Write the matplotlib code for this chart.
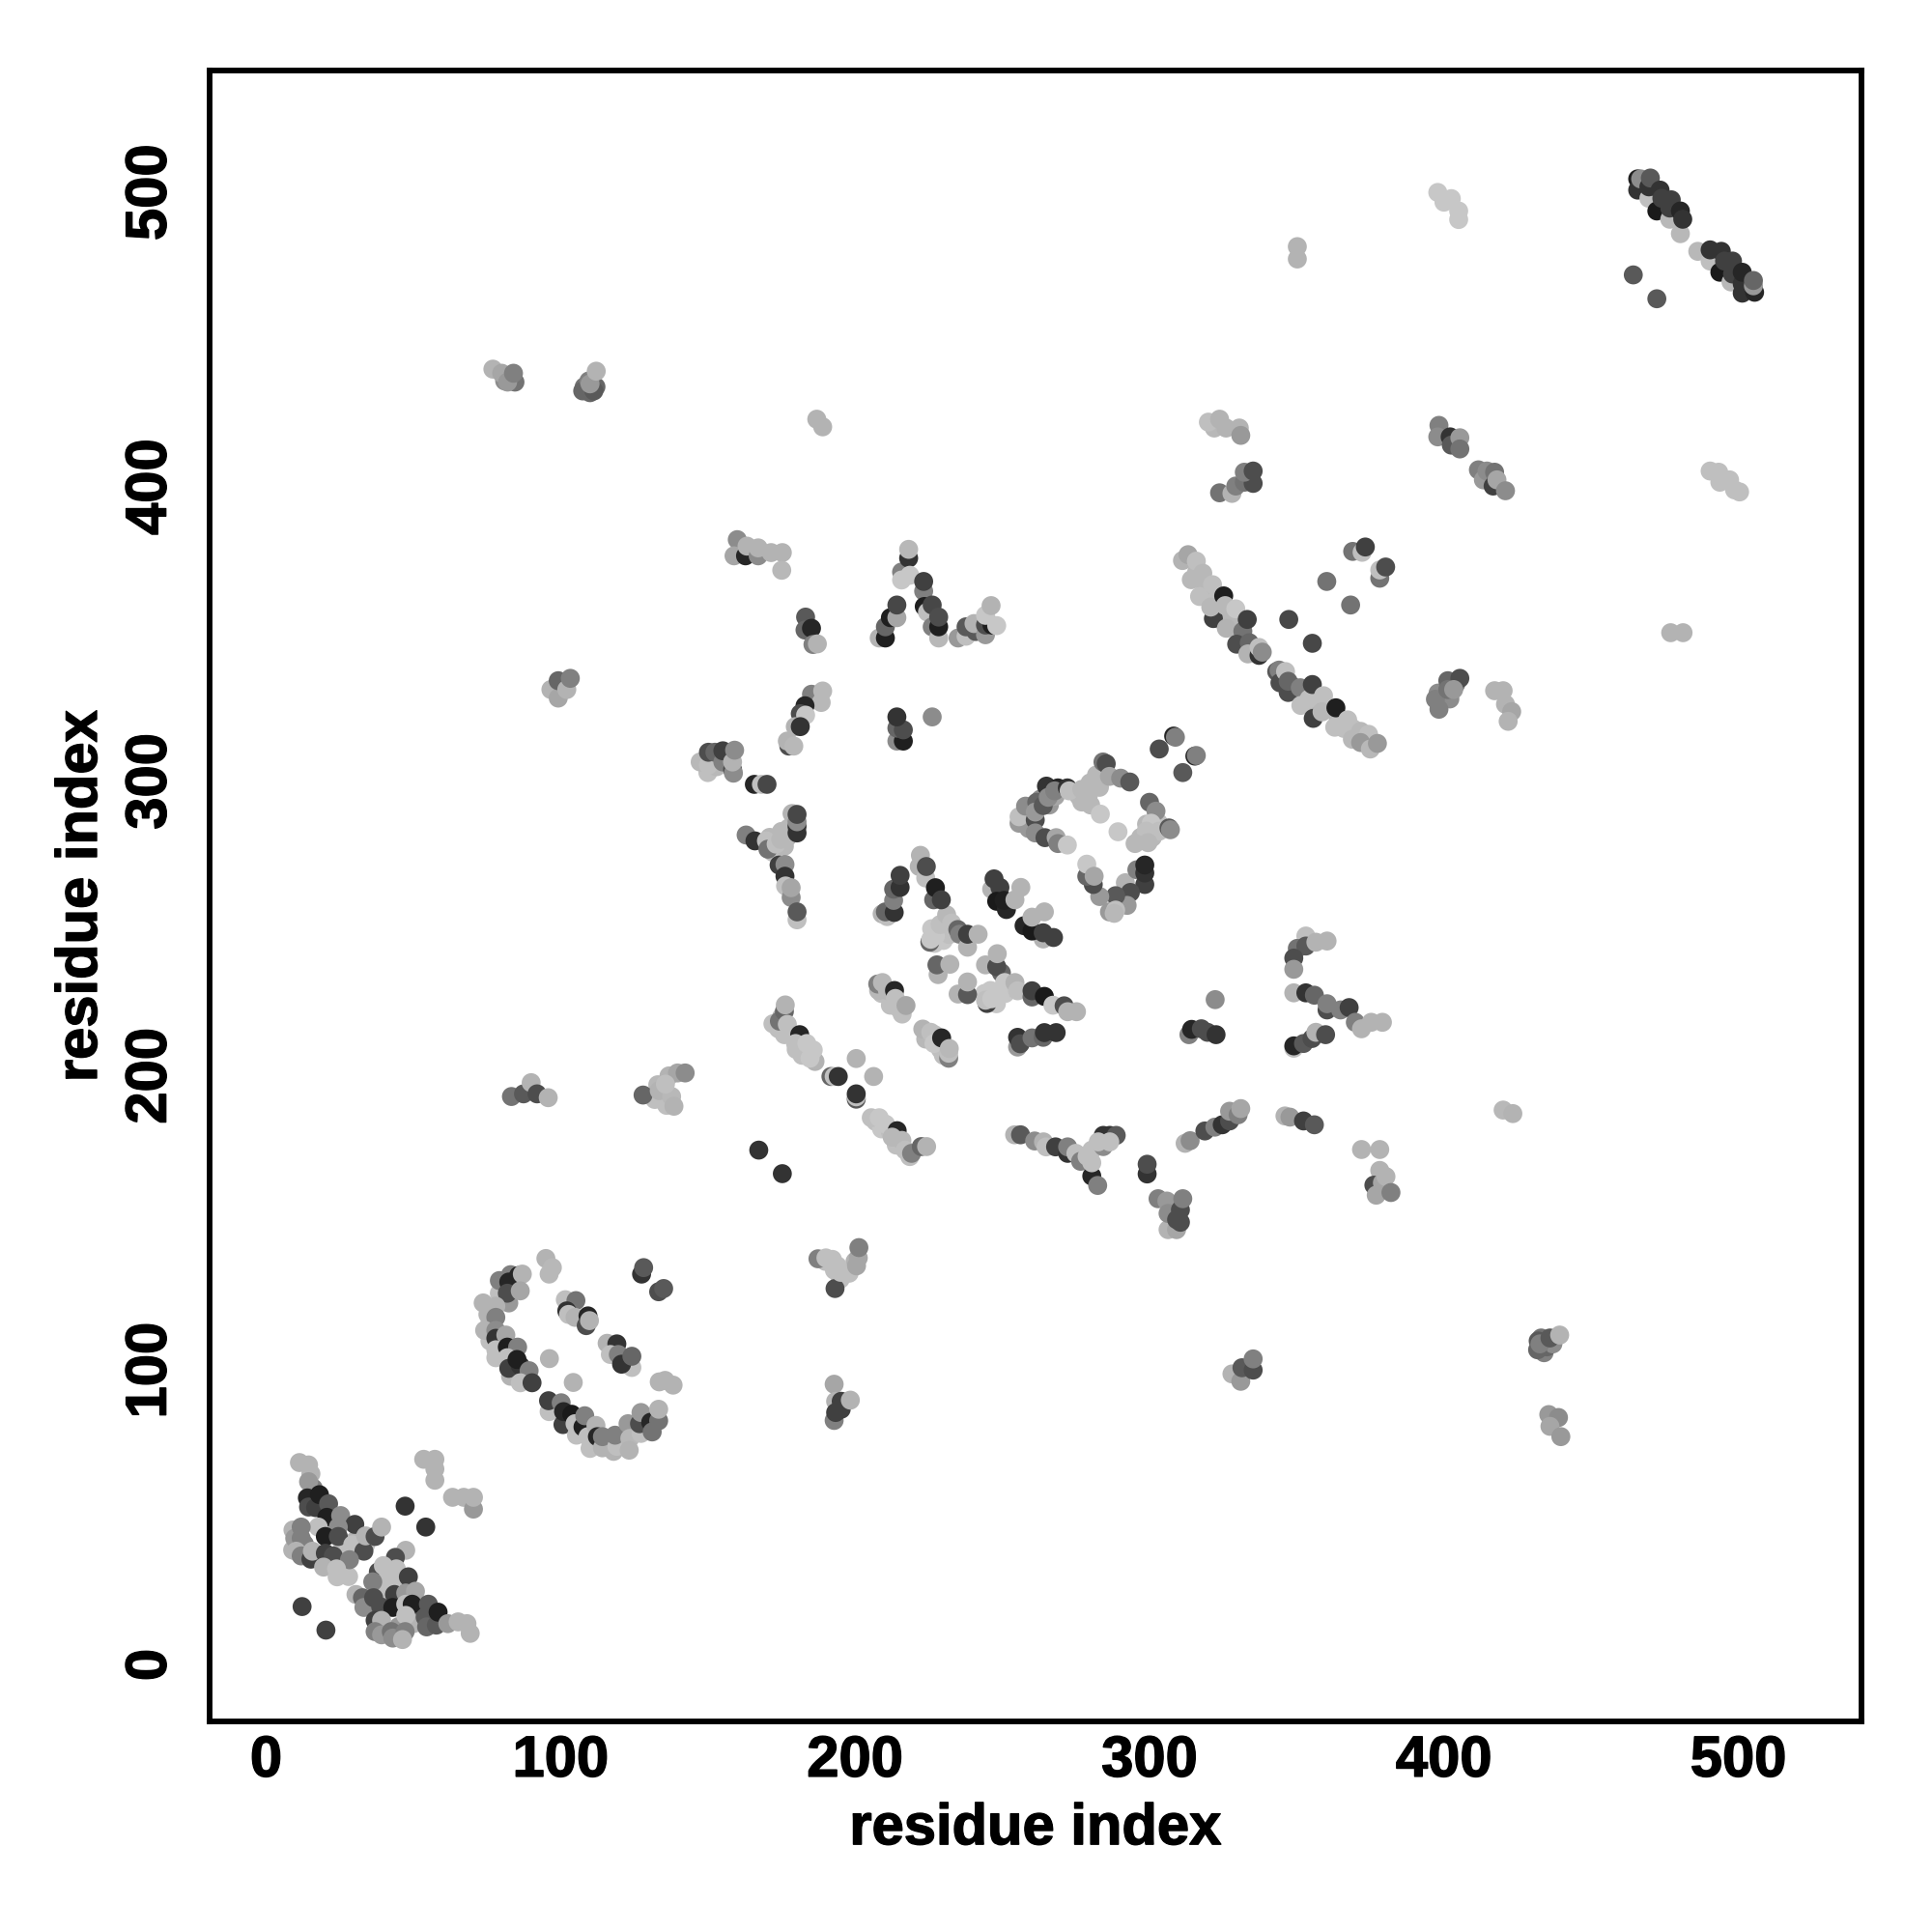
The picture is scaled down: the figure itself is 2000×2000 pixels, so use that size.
import matplotlib
matplotlib.use("Agg")
import matplotlib.pyplot as plt
import matplotlib.patheffects as pe

# each contact: (residue i, residue j, grey level)
dense_under = [(174,216,.75),(176,214,.75),(180,209,.75),(182,207,.75),(175,220,.72),(207,184.5,.75),(209,182,.78),(212,181,.75),(216,176,.75),
 (214,176.5,.75),(209,228,.75),(212,224,.75),(216,221,.75),(208,229,.72),(224,212.5,.72),(227,214,.75),(229,209,.75),(230,207,.75),
 (229,249,.78),(230,246,.78),(227,245,.78),(232,248,.75),(226,250,.78),(246,229,.78),(248,224.5,.78),(244,228,.78),(251,228,.78),(252,230,.75),
 (277,293,.72),(280,292,.72),(276,295,.72),(283,298,.72),(297,281,.72),(301,281,.72),(303,286,.75),(299,285.5,.72),(266,292,.6),(263,294,.55),
 (268,295,.65),(258,286,.7),(259,284,.6),(76,116,.7),(76,110,.75),(80,109,.7),(76,121,.7),(84,104,.75),(83,98,.7),(110,73.5,.75),(118,72.5,.7),
 (121,75,.72),(16,60,.5),(9,39,.7),(13,41,.5),(14,39,.5),(28,30,.75),(41,27,.75),(45,30,.75),(23,44,.75),(26,40,.75),(30,42,.7),(40,25,.75),
 (52,18,.4),(38,12,.55),(45,13,.6),(50,14,.7),(316,371,.72),(319,366,.72),(322,361,.75),(327,355,.72),(329,352,.72),(324,355,.72),(366,318,.75),
 (364,322,.72),(369,318,.75),(360,325,.72),(357,326,.7),(373,314,.75),(352,328,.5),(349,332,.4),(172,276,.75),(175,283,.72),(171,281,.72),
 (176,278,.72),(177,281,.72),(150,303,.75),(153,305,.72),(109,434,.5),(112,434,.4),(110,432,.4),(108,434,.45),(83,437,.55),(81,436,.55),
 (433,111,.45),(434,106,.5),(435,108,.4),(437,109,.55),(432,110,.35),(322,420,.72),(326,420,.7),(400,330,.5),(398,330,.55),(402,328,.55),(404,333,.45),
 (190,137,.75),(193,134,.75),(195,131,.75),(197,133,.75),(198,133,.75),(200,137,.7),(134,193,.75),(136,190,.75),(133,197,.72),(132,192,.75)]

cross_lowleft = [(11.3,68.7,.7),(14.4,67.9,.7),(15.2,64.9,.7),(14.4,62.2,.6),(14,56.7,.15),(14.4,53.6,.3),(16.8,53.4,.25),
 (18.1,57.8,.12),(21.2,54.7,.35),(20.6,50.1,.12),(25.3,50.7,.55),(30.1,47.7,.25),(17.7,46.8,.75),(24.5,46.8,.55),(20.1,43.6,.12),
 (24.5,43.6,.3),(29.4,40.8,.75),(33.8,40.8,.75),(33.2,38.6,.3),(33.8,43.8,.7),(37,43.6,.3),(39.2,46.8,.7),(9.1,45.8,.7),(9.7,43,.6),
 (11.9,46.8,.5),(11.9,43,.5),(10.2,38.6,.7),(11.9,37,.5),(15.2,35.9,.25),(15.7,38.6,.7),(20.1,37.9,.25),(22.8,37,.3),(28.3,35.7,.5),
 (19.5,33.2,.7),(23.9,32.6,.75),(24.1,29.9,.75),(47.4,38.9,.7),(43.9,36.5,.3),(38.1,31.6,.3),(39.8,33.7,.75),(44.2,32.6,.75),
 (41.4,29.9,.75),(48.3,29.9,.25),(36.2,28.2,.5),(30.5,23.9,.7),(32.7,22.8,.4),(33.2,19.5,.55),(36.5,22.8,.3),(38.9,19.7,.3),
 (43.6,23.9,.25),(43,19.5,.12),(47.4,24.4,.6),(50.7,25,.65),(47.4,20.6,.75),(49.6,20.6,.12),(55.1,20.6,.35),(54,16.2,.35),
 (54.5,12.9,.4),(57.8,13.5,.35),(58.4,17.9,.12),(47.4,16.8,.75),(37,15.1,.25),(39.2,15.1,.7),(37,11.3,.5),(39.2,10.2,.6),
 (42.5,11.3,.45),(43,9.1,.55),(47.2,11.3,.5),(46.3,8.6,.7),(61.7,14,.6),(65.2,14.6,.7),(68.2,14,.7),(69.3,10.7,.7),
 (12.2,19.8,.25),(20.3,11.8,.25),(47.2,53.9,.2),(54.2,46.8,.2),(53.5,69.8,.7),(57.3,69.8,.7),(57.3,66.5,.7),(57.3,62.7,.7),
 (63.3,56.9,.7),(67.1,56.9,.7),(70.4,52.9,.6),(70.4,56.9,.7)]

ring_outer = [(95,138,.7),(97.2,134.9,.72),(96.1,132.7,.72),(79.2,126.2,.75),(79.2,130.5,.5),(83,132.5,.5),(82.4,130,.15),
 (85.7,132.2,.15),(87,132.7,.7),(82.4,122.9,.6),(81.9,126.2,.3),(86.3,127,.65),(73.7,122.9,.7),(78,121.8,.7),(75.3,119,.7),
 (78,118,.5),(74.2,113.6,.7),(78,113.6,.55),(78,110.9,.2),(81.4,112,.65),(78,107,.75),(78,104.3,.75),(81.9,107.9,.12),
 (85.4,107.9,.5),(81.9,104.3,.75),(82.4,100.7,.25),(86.3,101.6,.2),(85.2,103.7,.12),(89.3,99.9,.5),(86.3,95.8,.75),(90.3,95.8,.25),
 (96.2,104,.7),(104.3,95.9,.7),(96.1,86,.75),(95.9,89.7,.25),(100.2,89,.5),(100.8,81.6,.25),(101,86,.15),(103.8,85.1,.1),
 (104.9,81.9,.75),(105.4,78,.75),(107.6,80.8,.12),(108.2,84.6,.5),(109.3,77.5,.75),(112,81.3,.7),(112.5,77.5,.15),(114.2,73.7,.7),
 (114.2,77.5,.5),(119.1,74.2,.75),(118.5,78,.5),(122.9,81.9,.6),(123.5,76.9,.72),(123.3,72.9,.7),(127.3,78.6,.75),(126.8,81.9,.3),
 (127.3,85.7,.6),(130.6,82.4,.15),(131.1,79.1,.45),(133.3,82.9,.45),(133.3,86.8,.7)]

ring_inner = [(101.6,124,.75),(105.2,123.7,.45),(102.1,120.2,.2),(102.7,119,.75),(104.9,118,.7),(108.7,115.2,.3),(109.3,118.5,.15),
 (109.8,116.9,.7),(115.8,109.2,.7),(119.1,109,.2),(116.9,105.4,.75),(119.6,105.4,.5),(124.2,101,.75),(120.7,102.1,.2),(124.2,104.8,.4),
 (133.5,96.1,.7),(135.5,96.6,.7),(138.2,95,.7),(127.5,132.7,.2),(128.2,134.9,.35),(133.3,126.7,.3),(135,127.8,.35)]

mid_low = [(187.4,137.9,.5),(190.1,138.2,.75),(192.3,137.7,.75),(193.2,127.8,.3),(194,135.5,.75),(195.1,133.3,.75),(200.5,135.5,.65),
 (201.1,138.2,.65),(201.3,141.7,.5),(192.9,95.3,.65),(193.4,89.5,.7),(192.9,83,.5),(193.4,85.7,.25),(195.3,86.8,.25),(195.3,89.5,.25),
 (198.4,89.9,.7),(431.8,107,.4),(432.6,109,.5),(436,111,.35),(439.3,112,.7),(435.6,85,.6),(438.9,84,.55),(436,81,.65),(439.7,77.5,.6)]

strips_a = [(172.1,217.7,.75),(174.3,218.6,.45),(176,221.9,.4),(176.3,224.1,.7),(177,217.5,.75),(178,214.2,.75),(181.2,214,.15),
 (179.8,211,.75),(183.6,211,.78),(186.4,204.9,.7),(184.7,206,.78),(185.8,208.8,.78),(191.8,199.8,.4),(192.9,199.8,.75),(194.3,199.8,.2),
 (200.4,205.9,.7),(206.3,199.8,.7),(200.4,192.1,.35),(200.4,192.9,.75),(200.4,193.9,.2),(205.5,185.8,.75),(208.2,185.8,.78),
 (210.4,183.6,.78),(214.3,181.4,.15),(212.6,179.2,.72),(215.9,178.1,.72),(217,174.8,.75),(218.6,172.6,.75),(219.2,173.7,.5),
 (222.5,176,.4),(224.3,176,.7),(207.7,231.2,.5),(209.3,231.7,.72),(211,229,.72),(213.4,229,.15),(213.7,226.3,.75),(214.8,223,.75),
 (217.3,223.9,.65),(223,215.9,.7),(225.7,214.8,.75),(226.8,211,.78),(229.4,212.9,.15),(231.8,206,.5),(231.8,207.7,.75),(232,209.3,.72)]

strips_b = [(255.2,209.8,.6),(255.2,213.1,.2),(256.1,210.9,.3),(260.1,212.9,.45),(263.9,213.1,.4),(264.3,214.7,.2),(268.3,214.7,.2),
 (228.2,234.4,.7),(227.8,237.7,.4),(232.2,237.9,.7),(235,227.8,.7),(238.2,227.6,.35),(238.2,231.9,.7),(244.8,224.6,.25),(244.3,225.7,.75),
 (246.4,226.2,.78),(244.3,237.7,.7),(249.7,235,.4),(248.1,237.1,.3),(248.3,241.5,.7),(249.7,228.4,.78),(250.8,231.7,.78),(254.3,231.7,.7),
 (255.2,228.9,.75),(260.1,226.8,.4),(260.1,228.9,.25),(264.3,227,.1),(267.2,224,.78),(271,223.8,.3),(272.2,221.8,.7),(275.2,221.8,.7),
 (225.4,245.4,.4),(225.7,246.4,.78),(227.3,247.5,.78),(228.9,251.4,.75),(231.1,254.7,.72),(232.8,251.9,.75),(234.9,249.7,.4),
 (235.5,248.1,.5),(238.2,243.7,.7),(238.2,248.1,.25),(241.8,248.1,.7),(209.2,255,.7),(210.9,254.1,.75),(210.3,255.7,.4),(213.3,255.5,.2),
 (213.1,259.6,.5),(213.1,263.4,.4),(215.3,264,.2),(215.3,268.1,.25),(222.2,274.9,.7),(221.8,271.1,.7),(224,267.2,.75),(224.2,271.1,.3),
 (226.7,259.8,.4),(227.3,263.9,.12),(229.3,259.8,.25),(246.4,263.4,.7),(247.2,266.9,.25),(249.2,264,.25),(248.1,259.3,.1),(251.4,256.5,.15),
 (250.6,259.6,.12),(256.3,264,.7),(254.3,259.8,.7),(263.9,246.5,.7),(257.4,251,.15),(260.1,249.2,.1),(263.9,248.6,.25),(267.4,247,.25),
 (260.1,253.9,.7),(264.3,255.7,.7)]

triangle = [(255.7,285.8,.6),(255.7,288,.75),(257.9,291.6,.55),(261.2,286.9,.3),(261.7,292.9,.4),(261.2,289.6,.6),(263.9,291.8,.35),
 (265,298.4,.2),(265.6,294.6,.55),(268.9,297.8,.15),(267.8,296.8,.5),(272.1,297.8,.2),(272.7,296.8,.75),(261.2,282.5,.55),(264.5,280.9,.3),
 (268.3,280.9,.65),(268.9,278.9,.5),(272.1,278.4,.78),(277,297.3,.72),(279.2,295.1,.72),(279.8,299.5,.72),(282,302.2,.72),(284.2,306.6,.45),
 (285.3,306,.3),(286.4,301.7,.65),(290.2,301.1,.55),(293.3,299.8,.35),(283.3,288.9,.78),(289.3,282.9,.78),(300,292.9,.4),(302.2,289.9,.55),
 (300.6,285.8,.78),(303.3,283.1,.75),(298.9,283.1,.75),(306.6,284.2,.35),(307.1,283.6,.55),(299.5,279.2,.72),(295.1,278.9,.72),
 (291.8,265.6,.7),(295.7,270,.5),(298.4,265,.25),(298.4,268.9,.2),(298.4,271.6,.15),(293.5,262.3,.3),(292.4,257.9,.6),(288.5,261.2,.35),
 (286.4,255.7,.6),(288.5,256.3,.75),(288,255.2,.72),(283.1,260.9,.6),(280.9,265,.3),(278.7,267.8,.4),(278.7,271.9,.78),(281.2,267.8,.65),
 (303.3,311,.3),(308.2,315.4,.15),(308.8,315,.5),(311.3,303,.35),(315.4,308.6,.15),(315.9,308.8,.5)]

diagonal_right = [(311.2,375,.7),(313.1,377,.65),(315.9,374.8,.75),(314.2,368.5,.72),(318.1,370.7,.72),(321.4,366.8,.75),(317,362.8,.75),
 (321.7,355.3,.25),(320.8,359.2,.72),(325.2,363,.12),(325.7,359.7,.72),(326.1,352,.7),(329.3,358.6,.78),(331.7,351,.45),(333.2,355,.25),
 (329.6,346.6,.3),(333.9,347.1,.4),(333.4,343.3,.7),(337.2,342.8,.2),(337.2,345.5,.75),(338.3,343.9,.55),(347.3,355,.28),(355.3,346.9,.28),
 (360.2,367.9,.45),(368.3,359.9,.45),(343.2,337.3,.35),(344,337.8,.5),(344.3,333.5,.3),(346.2,337.3,.75),(347.1,330.2,.3),(347.1,334,.4),
 (351.2,331.8,.5),(351.4,325.8,.75),(354.2,328,.75),(355.3,332.9,.25),(355.6,321.4,.25),(359.1,329.1,.75),(358.6,323.6,.72),(363.3,325,.12),
 (362.9,318.4,.75),(367.3,320.9,.75),(368.9,314.3,.72),(371.7,317,.72),(374.4,316,.75),(371.7,313.2,.6),(375,311,.72),(377.4,312.9,.6),
 (369,378.1,.45),(372.2,377.8,.75),(373.3,379.6,.25),(378.2,369,.45),(378.2,371.8,.75),(380.2,372.8,.3)]

top_right = [(465.8,504.6,.12),(465.8,500.8,.2),(466.8,504.6,.55),(469.6,498,.75),(469.6,501.9,.2),(470.1,504.9,.35),(473.4,500.8,.2),
 (472.3,493.7,.1),(476.7,490.9,.72),(474,498,.25),(477.2,497.5,.25),(476.7,494.7,.25),(480.3,486,.72),(480.3,493.7,.15),(481.1,490.9,.2),
 (486.2,480,.72),(490.4,476.7,.75),(490.4,480.5,.2),(494.2,480,.2),(493.7,472.9,.1),(497.5,469.6,.72),(495.3,476.7,.25),(498,476.7,.25),
 (498,472.3,.25),(501.3,465.8,.2),(501.3,469,.2),(501.3,472.9,.15),(505.5,466.1,.15),(505.1,468.3,.6),(505.1,470.1,.4),(464.3,472,.35),(472.3,463.9,.35)]

upper_left = [(160,382.1,.55),(158.9,376.6,.65),(162.8,376.6,.15),(163.3,379.9,.7),(167.1,376.6,.55),(167.1,379.3,.7),(171.5,377.7,.7),
 (175.3,377.7,.7),(175.1,371.7,.72),(183.2,355.8,.35),(183,351.4,.4),(185.2,352,.15),(185.7,346.5,.5),(187.2,346.7,.7),
 (208.2,348.7,.7),(210.3,348.7,.12),(210.3,352.5,.4),(212,355.6,.12),(214.2,355.6,.65),(214.2,359.9,.28),(215.8,371.1,.5),(218.2,375.8,.2),
 (218.2,378.8,.72),(215.8,368.4,.78),(218.6,370,.78),(223.3,364.6,.5),(223.3,367.9,.25),(223.5,359.4,.12),(224.6,357.5,.75),(226.2,352.5,.5),
 (226.2,359.9,.28),(228.4,348.7,.72),(228.4,352.5,.12),(228.4,355.8,.3),(235,348.7,.6),(237.7,349.3,.75),(237.7,352.5,.35),(241,350.9,.35),
 (240.4,353.6,.7),(244.3,349.8,.6),(244.3,353.1,.3),(246.5,353.1,.12),(244.3,356.4,.78),(246.2,359.7,.7),(248.1,352.9,.78),
 (185.2,329.6,.5),(188.5,326.8,.72),(189,330.7,.72),(183,325.7,.15),(181.4,323,.3),(183.2,322.5,.78),(179.7,318.6,.7),(181.4,318.6,.2),
 (177.5,312,.3),(177,313.7,.7),(179.2,312,.72),(214.2,313.7,.55),(216.4,313.7,.12),(214.2,318.1,.4),(216.4,317.5,.3),(214.2,321.9,.2),(226.2,321.9,.55)]

y_shape = [(147.4,306.6,.72),(150.2,305.5,.75),(150.2,309.9,.3),(152.4,309.9,.4),(155.1,306.6,.5),(155.1,310.4,.25),(158.4,304,.3),
 (158.7,302.8,.55),(158.4,306.6,.7),(159.1,310.6,.55),(165.8,299,.15),(168.2,299,.75),(170.1,299,.28),(163,281.8,.5),(166,279.8,.2),
 (169.9,279.8,.75),(170.4,277,.45),(173.2,278.7,.75),(174.8,280.3,.72),(177.5,284.2,.72),(178.6,289.1,.7),(180.3,282.5,.2),(180.3,284.7,.2),
 (180.3,286.3,.55),(180.3,288.8,.28),(174.2,271.6,.25),(176.2,271.8,.55),(176.2,267.8,.2),(176.4,264.5,.75),(178.3,260.6,.55),(178.3,263.9,.65),
 (180.3,253,.75),(180.3,255.7,.35)]

far_upper = [(77,440,.7),(80,438.6,.65),(84.5,435.6,.45),(82,435.6,.6),(84,438.6,.5),(107.5,432.6,.4),(109.6,436,.5),(111.3,432.6,.35),
 (110,435,.6),(112.1,439.3,.7),(187,423,.7),(189,420.4,.7),(350.2,481.6,.7),(350.2,477.4,.7),(397.9,500,.78),(400,496.7,.78),(402.5,497.9,.78),
 (405,493.7,.78),(405,490.8,.78),(398.3,420.9,.5),(397.9,417,.55),(402.1,417,.2),(402.5,414.2,.35),(405.4,416.7,.6),(405.4,412.9,.45),
 (411.7,405.8,.5),(413.4,402.4,.6),(414.6,405.4,.55),(417.2,405,.45),(416.7,400.3,.25),(418,402.4,.65),(420.9,398.7,.55),(490.4,405.4,.75),
 (493.3,405,.75),(493.7,401.6,.75),(497,402.4,.75),(498.7,399,.75),(500.4,398.3,.75),(477,350.5,.7),(481.2,350.5,.7),(320,422,.75),(323.8,423,.7),
 (330.5,420,.7),(331,417.5,.6),(323.8,398,.45),(328,397.8,.7),(329.3,400.3,.5),(332.2,401.6,.45),(335.2,401.2,.3),(332.2,405,.5),(335.2,405.4,.3),
 (397.1,327.9,.5),(398.3,324.5,.5),(401.3,334.2,.4),(401.3,331.2,.45),(405.4,335,.3),(403.3,331.2,.6),(417.2,330.8,.7),(420.1,330.8,.7),
 (420.9,326.2,.7),(423,323.7,.65),(421.8,320.4,.7),(96.7,331.2,.7),(99.2,328.3,.65),(99.2,334.2,.4),(102.1,331.2,.7),(103.3,335,.5)]

lower_band = [(83.3,193,.45),(87.4,193.9,.35),(90,197.7,.7),(92,193.9,.3),(95.8,192.6,.7),(128,193.5,.4),(133.5,195,.7),(137.7,193,.72),
 (138.5,189.7,.7),(136.8,200,.7),(139.7,201,.65),(142.3,201,.55),(135.6,197.2,.75),(167.3,174.8,.2),(175.3,166.8,.2),(254.2,180,.7),(256.2,180,.35),
 (261,177.9,.55),(264,177.6,.7),(264.9,175.9,.75),(268.1,175.9,.25),(272.2,173.7,.2),(272.2,175.9,.5),(275,173.7,.75),(276.6,171,.5),
 (280.4,166,.15),(282.4,162.8,.5),(278.8,172.7,.75),(280.4,170.5,.75),(280.4,174.8,.75),(284.3,176,.55),(284.3,179.8,.2),(286.5,179.8,.2),
 (288.7,179.8,.35),(282.6,177.6,.75),(286.5,177.6,.75),(299.2,166.7,.2),(299.2,170,.3),(302.9,158.3,.5),(305.9,157.5,.6),(306.3,147.8,.7),
 (306.3,153.3,.55),(309.2,147.8,.65),(309.2,151.2,.3),(310.5,150.3,.3),(310.5,154.5,.3),(311.3,158.3,.5),(312.1,177.1,.7),(313.8,178,.55),
 (318.8,181.3,.3),(322.2,182.6,.5),(324.7,183.4,.2),(327.2,184.7,.3),(327.2,188,.6),(330.1,186.8,.5),(331,188.9,.65),(346,186.4,.7),(347.7,186,.6),
 (352.3,184.7,.25),(356,183.4,.35),(372,175,.7),(378.2,175,.7),(378.2,167.9,.7),(376.2,162.9,.3),(379.1,163.7,.65),(377,159.5,.65),(380.3,165.8,.7),
 (382,160.4,.5),(420.1,188.4,.72),(423.4,187.2,.7),(328,98.8,.7),(331,96.3,.6),(331.4,100.9,.35),(335.2,100.1,.3),(335.2,103.9,.5)]

right_mid = [(353.1,247.5,.75),(350.2,243.3,.45),(353.1,244.1,.35),(356.5,245.4,.7),(360.3,245.8,.7),(349,240,.3),(349,236.2,.6),(349,228.2,.7),
 (353.1,228.2,.2),(356,227.4,.4),(360.3,222.4,.3),(360.3,224.5,.5),(364.9,222.4,.5),(367.8,223.2,.25),(369.9,218.2,.5),(372,216,.7),(375.3,218.2,.7),
 (379.1,218.2,.7),(349,209.4,.75),(349,210.2,.15),(352.3,211,.35),(355.2,212.7,.3),(356.5,214.8,.7),(359.8,214,.3),(313.4,214,.5),(314.3,215.8,.15),
 (317.6,216,.3),(319.7,214.8,.3),(322.6,214,.2),(322.3,225.9,.55)]

regions = [dense_under, cross_lowleft, ring_outer, ring_inner, mid_low, strips_a, strips_b, triangle, diagonal_right,
           top_right, upper_left, y_shape, far_upper, lower_band, right_mid]
tick_values = [0, 100, 200, 300, 400, 500]
x_label = "residue index"
y_label = "residue index"

plt.rcParams['font.family'] = ['Liberation Sans', 'DejaVu Sans']
fig = plt.figure(figsize=(20, 20), dpi=100, facecolor='white')
ax = fig.add_axes([217/2000, 1-1782/2000, 1710/2000, 1709/2000])
for region in regions:
    xs = [p[0] for p in region]
    ys = [p[1] for p in region]
    cs = [str(p[2]) for p in region]
    ax.scatter(xs, ys, c=cs, s=200, linewidths=0, zorder=2)

ax.set_xlim(-19.2, 541.8)
ax.set_ylim(-19.2, 541.4)
ax.set_xticks(tick_values)
ax.set_yticks(tick_values)
ax.tick_params(axis='x', length=0, labelsize=43, pad=10)
ax.tick_params(axis='y', length=0, labelsize=43, pad=24)
heavy = [pe.withStroke(linewidth=1.0, foreground='black')]
for t in ax.get_xticklabels():
    t.set_fontweight('bold')
    t.set_path_effects(heavy)
for t in ax.get_yticklabels():
    t.set_fontweight('bold')
    t.set_rotation(90)
    t.set_va('center')
    t.set_path_effects(heavy)
ax.set_xlabel(x_label, fontsize=43, fontweight='bold', labelpad=11, path_effects=heavy)
ax.set_ylabel(y_label, fontsize=43, fontweight='bold', labelpad=12, path_effects=heavy)
for s in ax.spines.values():
    s.set_linewidth(4.2)
fig.savefig('out.png', dpi=100, facecolor='white')
